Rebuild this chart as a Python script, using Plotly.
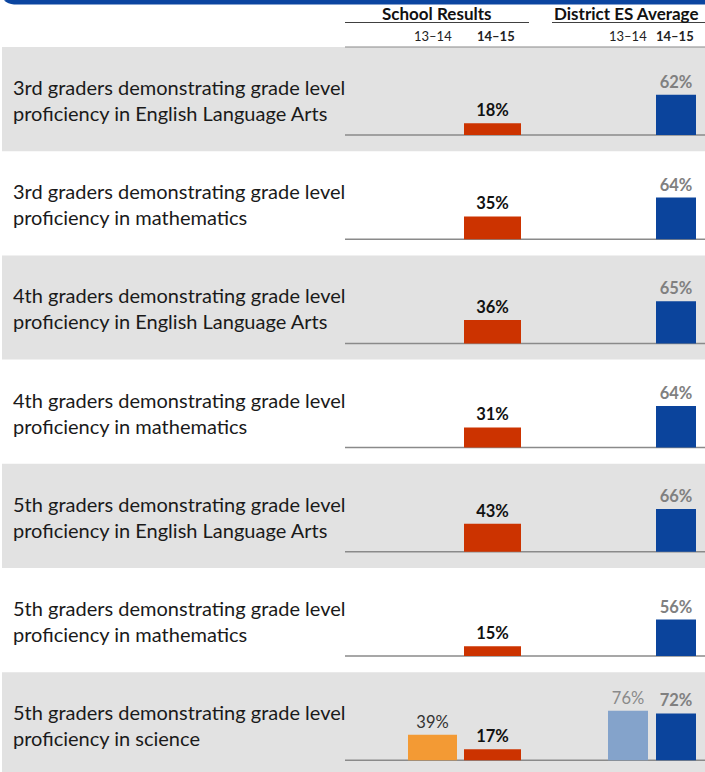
import plotly.graph_objects as go

# ---------------- data ----------------
row_labels = [
    ["3rd graders demonstrating grade level", "proficiency in English Language Arts"],
    ["3rd graders demonstrating grade level", "proficiency in mathematics"],
    ["4th graders demonstrating grade level", "proficiency in English Language Arts"],
    ["4th graders demonstrating grade level", "proficiency in mathematics"],
    ["5th graders demonstrating grade level", "proficiency in English Language Arts"],
    ["5th graders demonstrating grade level", "proficiency in mathematics"],
    ["5th graders demonstrating grade level", "proficiency in science"],
]
school_1314 = [None, None, None, None, None, None, 39]
school_1415 = [18, 35, 36, 31, 43, 15, 17]
district_1314 = [None, None, None, None, None, None, 76]
district_1415 = [62, 64, 65, 64, 66, 56, 72]
group_titles = ["School Results", "District ES Average"]
year_labels = ["13–14", "14–15"]

# ---------------- layout constants ----------------
W, H = 705, 772
PX_PER_PCT = 0.65
ROW_TOP0 = 47
ROW_PITCH = 104.2
BASE_OFFSET = 88
FONT = "Lato"

def py(p):
    return 1 - p / H

n = len(row_labels)
row_tops = [ROW_TOP0 + i * ROW_PITCH for i in range(n)]
base_px = [t + BASE_OFFSET for t in row_tops]
bases = [(H - b) / PX_PER_PCT for b in base_px]

fig = go.Figure()

def add_bars(vals, xc, width, color, tcolor, bold, name):
    xs, ys, bs, txt = [], [], [], []
    for v, b in zip(vals, bases):
        if v is None:
            continue
        xs.append(xc); ys.append(v); bs.append(b)
        txt.append(f"<b>{v}%</b>" if bold else f"{v}%")
    fig.add_trace(go.Bar(
        x=xs, y=ys, base=bs, width=width, name=name,
        marker=dict(color=color, line=dict(width=0)),
        text=txt, textposition="outside", constraintext="none",
        textfont=dict(family=FONT, size=16.5, color=tcolor),
        cliponaxis=False, hoverinfo="skip",
    ))

add_bars(school_1314, 432.5, 49, "#F39A34", "#333333", False, "School 13–14")
add_bars(school_1415, 492.5, 57, "#CC3300", "#111111", True, "School 14–15")
add_bars(district_1314, 628, 40, "#84A3CB", "#8a8a8a", False, "District 13–14")
add_bars(district_1415, 676, 40, "#0B449C", "#808080", True, "District 14–15")

shapes = []
# top blue band
shapes.append(dict(type="path", xref="x", yref="paper",
                   path=f"M 6,{py(0)} L 705,{py(0)} L 705,{py(4.5)} L 14,{py(4.5)} Q 8,{py(4)} 4,{py(0.5)} Z",
                   fillcolor="#0B45A0", line=dict(width=0), layer="above"))
# grey row backgrounds
for i in range(0, n, 2):
    shapes.append(dict(type="rect", xref="x", yref="paper", x0=2, x1=705,
                       y0=py(row_tops[i]), y1=py(min(row_tops[i] + ROW_PITCH, H)),
                       fillcolor="#E2E2E2", line=dict(width=0), layer="below"))
# baselines
for b in base_px:
    shapes.append(dict(type="line", xref="x", yref="paper", x0=345, x1=705,
                       y0=py(b), y1=py(b), line=dict(color="#8A8A8A", width=1.5), layer="below"))
# line under sub header
shapes.append(dict(type="line", xref="x", yref="paper", x0=345, x1=705,
                   y0=py(47), y1=py(47), line=dict(color="#8A8A8A", width=1.2), layer="below"))
# header underlines
shapes.append(dict(type="line", xref="x", yref="paper", x0=345, x1=529,
                   y0=py(22.5), y1=py(22.5), line=dict(color="#404040", width=1.2)))
shapes.append(dict(type="line", xref="x", yref="paper", x0=552, x1=705,
                   y0=py(22.5), y1=py(22.5), line=dict(color="#404040", width=1.2)))

annotations = []
annotations.append(dict(x=437, y=py(13.5), xref="x", yref="paper", text=f"<b>{group_titles[0]}</b>",
                        showarrow=False, font=dict(family=FONT, size=17, color="#111111"),
                        xanchor="center", yanchor="middle"))
annotations.append(dict(x=626, y=py(13.5), xref="x", yref="paper", text=f"<b>{group_titles[1]}</b>",
                        showarrow=False, font=dict(family=FONT, size=17, color="#111111"),
                        xanchor="center", yanchor="middle"))
for xc, lab, bold in [(433, year_labels[0], False), (496, year_labels[1], True),
                      (628, year_labels[0], False), (675, year_labels[1], True)]:
    annotations.append(dict(x=xc, y=py(36.5), xref="x", yref="paper",
                            text=f"<b>{lab}</b>" if bold else lab, showarrow=False,
                            font=dict(family=FONT, size=13, color="#222222"),
                            xanchor="center", yanchor="middle"))
for i, (l1, l2) in enumerate(row_labels):
    top = row_tops[i]
    annotations.append(dict(x=11, y=py(top + 40), xref="x", yref="paper", text=l1,
                            showarrow=False, font=dict(family=FONT, size=20, color="#1a1a1a"),
                            xanchor="left", yanchor="middle"))
    annotations.append(dict(x=11, y=py(top + 66), xref="x", yref="paper", text=l2,
                            showarrow=False, font=dict(family=FONT, size=20, color="#1a1a1a"),
                            xanchor="left", yanchor="middle"))

fig.update_layout(
    width=W, height=H, autosize=False,
    margin=dict(l=0, r=0, t=0, b=0, pad=0),
    paper_bgcolor="white", plot_bgcolor="rgba(0,0,0,0)",
    showlegend=False, barmode="overlay",
    xaxis=dict(range=[0, W], visible=False, fixedrange=True),
    yaxis=dict(range=[0, H / PX_PER_PCT], visible=False, fixedrange=True),
    shapes=shapes, annotations=annotations,
)

fig.write_html("out.html", config={"displayModeBar": False},
               post_script="document.body.style.margin='0';document.body.style.overflow='hidden';")
